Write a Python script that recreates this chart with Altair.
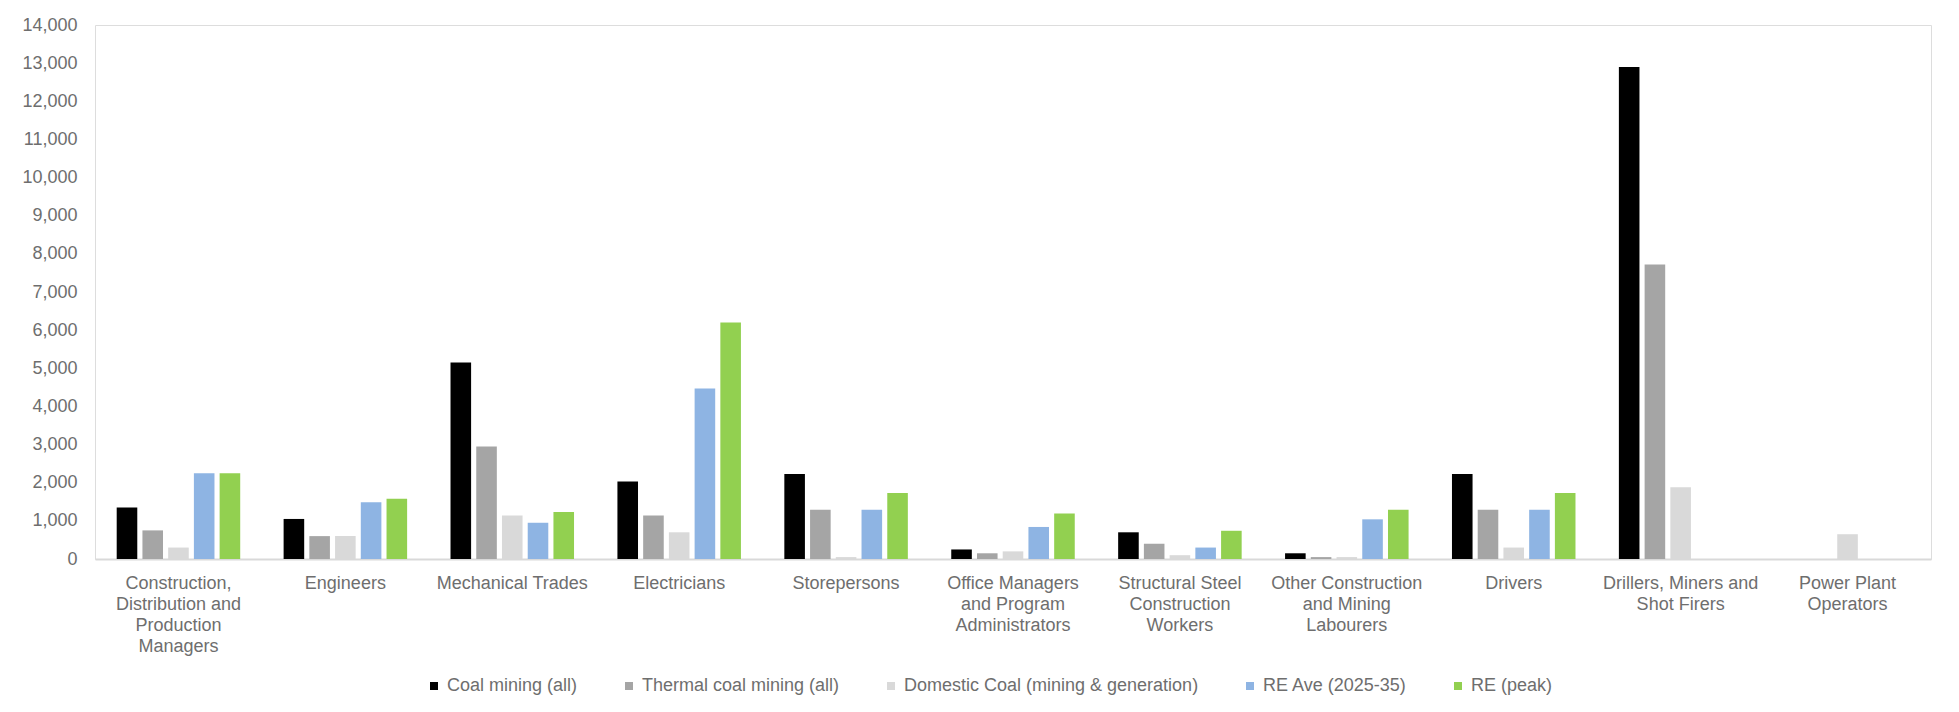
import altair as alt
import pandas as pd

categories = [
    "Construction, Distribution and Production Managers",
    "Engineers",
    "Mechanical Trades",
    "Electricians",
    "Storepersons",
    "Office Managers and Program Administrators",
    "Structural Steel Construction Workers",
    "Other Construction and Mining Labourers",
    "Drivers",
    "Drillers, Miners and Shot Firers",
    "Power Plant Operators",
]

label_lines = [
    ["Construction,", "Distribution and", "Production", "Managers"],
    ["Engineers"],
    ["Mechanical Trades"],
    ["Electricians"],
    ["Storepersons"],
    ["Office Managers", "and Program", "Administrators"],
    ["Structural Steel", "Construction", "Workers"],
    ["Other Construction", "and Mining", "Labourers"],
    ["Drivers"],
    ["Drillers, Miners and", "Shot Firers"],
    ["Power Plant", "Operators"],
]

series = [
    "Coal mining (all)",
    "Thermal coal mining (all)",
    "Domestic Coal (mining & generation)",
    "RE Ave (2025-35)",
    "RE (peak)",
]
colors = ["#000000", "#A5A5A5", "#D9D9D9", "#8EB4E3", "#92D050"]

coal_all = [1350, 1050, 5150, 2030, 2230, 250, 700, 150, 2230, 12900, None]
thermal_all = [750, 600, 2950, 1140, 1290, 150, 400, 50, 1290, 7720, None]
domestic = [300, 600, 1140, 700, 50, 200, 100, 50, 300, 1880, 650]
re_ave = [2250, 1490, 950, 4470, 1290, 840, 300, 1040, 1290, None, None]
re_peak = [2250, 1580, 1230, 6200, 1730, 1190, 740, 1290, 1730, None, None]

values_by_series = [coal_all, thermal_all, domestic, re_ave, re_peak]

rows = []
for s, vals in zip(series, values_by_series):
    for c, v in zip(categories, vals):
        rows.append({"category": c, "series": s, "value": v})
df = pd.DataFrame(rows)

# build multi-line label expression
def js_str(t):
    return "'" + t.replace("'", "\\'") + "'"

expr = "datum.label"
for c, lines in reversed(list(zip(categories, label_lines))):
    arr = "[" + ", ".join(js_str(l) for l in lines) + "]"
    expr = f"datum.value === {js_str(c)} ? {arr} : ({expr})"

text_color = "#6e6e6e"

chart = (
    alt.Chart(df)
    .mark_bar()
    .encode(
        x=alt.X(
            "category:N",
            sort=categories,
            scale=alt.Scale(paddingInner=0.26, paddingOuter=0.13),
            axis=alt.Axis(
                title=None,
                labelAngle=0,
                labelExpr=expr,
                labelFontSize=18,
                labelColor=text_color,
                labelLineHeight=21,
                labelPadding=15,
                labelLimit=0,
                ticks=False,
                domainColor="#D9D9D9",
                domainWidth=2,
            ),
        ),
        xOffset=alt.XOffset(
            "series:N",
            sort=series,
            scale=alt.Scale(paddingInner=0.2, paddingOuter=0),
        ),
        y=alt.Y(
            "value:Q",
            scale=alt.Scale(domain=[0, 14000], nice=False),
            axis=alt.Axis(
                title=None,
                values=list(range(0, 14001, 1000)),
                format=",.0f",
                grid=False,
                domain=False,
                ticks=False,
                labelFontSize=18,
                labelColor=text_color,
                labelPadding=18,
            ),
        ),
        color=alt.Color(
            "series:N",
            sort=series,
            scale=alt.Scale(domain=series, range=colors),
            legend=alt.Legend(
                title=None,
                orient="none",
                legendX=330,
                legendY=652,
                direction="horizontal",
                columns=5,
                symbolType="square",
                symbolSize=64,
                symbolStrokeWidth=0,
                labelFontSize=18,
                labelColor=text_color,
                labelOffset=4,
                columnPadding=42,
                labelLimit=0,
            ),
        ),
    )
    .properties(
        width=1836,
        height=534,
        padding={"left": 13, "top": 8, "right": 5, "bottom": 5},
    )
    .configure_view(stroke=None)
    .configure(font="Liberation Sans", background="white")
)

chart.save("out.html", embed_options={"renderer": "svg", "actions": False})
